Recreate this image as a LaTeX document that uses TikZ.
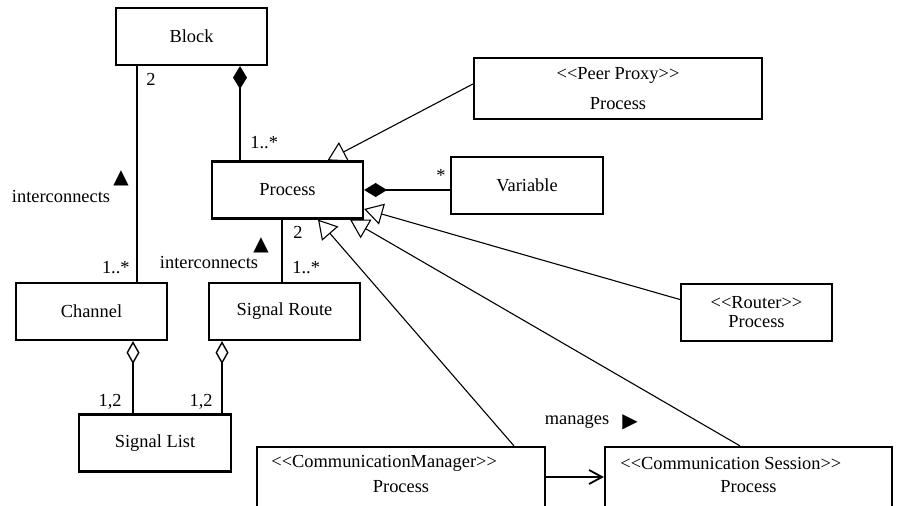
\documentclass[tikz,border=0pt]{standalone}
\usepackage{fontspec}
\newfontfamily\umlfont{Liberation Serif}
\newfontfamily\symfont{DejaVu Sans}
\usetikzlibrary{arrows.meta}
\tikzset{
  umlbox/.style={draw, line width=1.1pt, fill=white, inner sep=0pt, align=center,
    minimum width=75.5pt, minimum height=28.5pt},
  lbl/.style={inner sep=0pt},
  dirmark/.style={inner sep=0pt, font=\symfont\fontsize{10}{10}\selectfont},
  assoc/.style={line width=0.9pt},
  gen/.style={line width=0.55pt, -{Triangle[open, length=9.3pt, width=10.75pt, line width=0.55pt]}},
  comp/.style={assoc, {Diamond[length=11.5pt, width=7pt]}-},
  aggr/.style={assoc, {Diamond[open, length=11.5pt, width=6.5pt, line width=0.7pt]}-}
}
\begin{document}
\begin{tikzpicture}[x=0.5pt, y=-0.5pt, font=\umlfont\fontsize{9.2}{11}\selectfont]
          \useasboundingbox (0,0) rectangle (903,506);
          \node[umlbox] (block) at (191.5,36.5) {Block};
          \node[umlbox, minimum width=144pt, minimum height=30.5pt] (peer) at (618,88.5) {<<Peer Proxy>>\\[4pt]Process};
          \node[umlbox] (proc) at (287.5,190) {Process};
          \node[umlbox, minimum width=76pt] (var) at (527,185.5) {Variable};
          \node[umlbox] (router) at (756.5,312.5) {<<Router>>\\[-1.5pt]Process};
          \node[umlbox] (channel) at (91.5,311.5) {Channel};
          \node[umlbox] (route) at (284.5,311.5) {Signal Route};
          \node[umlbox, minimum width=76pt] (list) at (155,443) {Signal List};
          \node[umlbox, minimum width=144pt, minimum height=50pt] (mgr) at (401,497) {};
          \node[umlbox, minimum width=143.5pt, minimum height=50pt] (sess) at (748.5,497) {};
          \node[lbl, anchor=west] (mgrst) at (271,463) {<<CommunicationManager>>};
          \node[lbl] (mgrname) at (401,487) {Process};
          \node[lbl, anchor=west] (sessst) at (620,463) {<<Communication Session>>};
          \node[lbl] (sessname) at (748.5,487) {Process};

          \coordinate (chx) at (137,0);
          \coordinate (bpx) at (240,0);
          \coordinate (prx) at (282,0);
          \coordinate (clx) at (133,0);
          \coordinate (rlx) at (222,0);

          \draw[assoc] (block.south -| chx) -- (channel.north -| chx);
          \draw[comp] (block.south -| bpx) -- (proc.north -| bpx);
          \draw[assoc] (proc.south -| prx) -- (route.north -| prx);
          \draw[comp] (proc.east) -- (proc.east -| var.west);
          \draw[aggr] (channel.south -| clx) -- (list.north -| clx);
          \draw[aggr] (route.south -| rlx) -- (list.north -| rlx);
          \draw[gen] ([yshift=2.25pt]peer.west) -- ([xshift=20pt]proc.north);
          \draw[gen] ([yshift=6.5pt]router.west) -- ([yshift=-9.5pt]proc.east);
          \draw[gen] ([xshift=56.5pt]mgr.north) -- ([xshift=15.25pt]proc.south);
          \draw[gen] ([xshift=-4.25pt]sess.north) -- ([xshift=31.25pt]proc.south);
          \draw[assoc, -{Straight Barb[length=6.5pt, width=7pt]}] ([yshift=10pt]mgr.east) -- ([yshift=10pt]sess.west);

          \node[lbl, anchor=west] (mblock) at (146,79) {2};
          \node[lbl, anchor=east] (mchannel) at (130,268) {1..*};
          \node[lbl, anchor=west] (mproc) at (250,143) {1..*};
          \node[lbl, anchor=west] (mproc2) at (293,232) {2};
          \node[lbl, anchor=west] (mroute) at (292,268) {1..*};
          \node[lbl] (mvar) at (441,175) {*};
          \node[lbl, anchor=east] (mlist1) at (122,402) {1,2};
          \node[lbl, anchor=east] (mlist2) at (213,402) {1,2};
          \node[lbl] (ic1) at (61,197) {interconnects};
          \node[dirmark] (ic1dir) at (121,178) {▲};
          \node[lbl] (ic2) at (209,263) {interconnects};
          \node[dirmark] (ic2dir) at (261,245) {▲};
          \node[lbl] (mng) at (577,422) {manages};
          \node[dirmark] (mngdir) at (630,422) {▶};
\end{tikzpicture}
\end{document}
